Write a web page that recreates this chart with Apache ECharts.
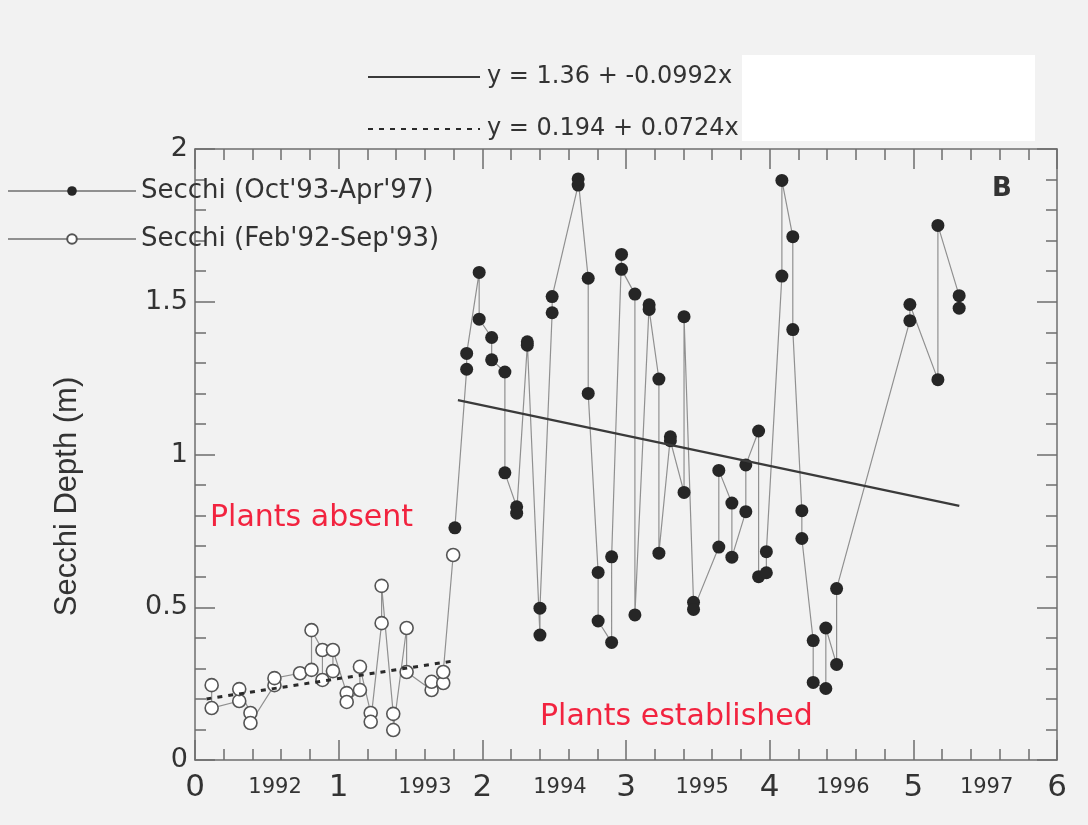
<!DOCTYPE html>
<html>
<head>
<meta charset="utf-8">
<script src="https://cdn.jsdelivr.net/npm/echarts@6/dist/echarts.min.js"></script>
<style>html,body{margin:0;padding:0;background:#f2f2f2;}#c{width:1088px;height:825px;}</style>
</head>
<body>
<div id="c"></div>
<script>
// ---- data ----
const xTickLabels = ['0','1','2','3','4','5','6'];
const yearPositions = [0.557, 1.60, 2.54, 3.53, 4.51, 5.51];
const yearLabels = ['1992','1993','1994','1995','1996','1997'];

const openX = [0.116,0.116,0.308,0.308,0.386,0.386,0.553,0.553,0.731,0.811,0.811,0.887,0.887,0.960,0.960,1.056,1.056,1.148,1.148,1.223,1.223,1.299,1.299,1.380,1.380,1.473,1.473,1.647,1.647,1.728,1.728,1.797];
const openY = [0.245,0.170,0.193,0.232,0.154,0.121,0.245,0.268,0.284,0.295,0.425,0.360,0.262,0.291,0.360,0.219,0.190,0.229,0.305,0.154,0.125,0.448,0.570,0.151,0.098,0.432,0.288,0.229,0.256,0.252,0.288,0.671];

const filledX = [1.809,1.891,1.891,1.978,1.978,2.065,2.065,2.157,2.157,2.239,2.239,2.313,2.313,2.401,2.401,2.486,2.486,2.667,2.667,2.737,2.737,2.806,2.806,2.900,2.900,2.969,2.969,3.062,3.062,3.161,3.161,3.229,3.229,3.309,3.309,3.404,3.404,3.470,3.470,3.646,3.646,3.737,3.737,3.834,3.834,3.923,3.923,3.977,3.977,4.085,4.085,4.161,4.161,4.224,4.224,4.303,4.303,4.391,4.391,4.466,4.466,4.976,4.976,5.171,5.171,5.319,5.319];
const filledY = [0.760,1.279,1.331,1.596,1.443,1.383,1.310,1.270,0.940,0.829,0.808,1.358,1.369,0.409,0.497,1.464,1.517,1.882,1.902,1.577,1.200,0.614,0.455,0.385,0.665,1.655,1.606,1.525,0.475,1.490,1.475,1.247,0.677,1.058,1.045,0.876,1.451,0.516,0.493,0.697,0.948,0.841,0.664,0.813,0.966,1.077,0.600,0.613,0.682,1.584,1.897,1.713,1.409,0.816,0.725,0.391,0.254,0.234,0.432,0.313,0.561,1.438,1.491,1.245,1.750,1.520,1.479];

// regression line end points
const fitLateX = [1.83, 5.32];
const fitLateY = [1.178, 0.832];
const fitEarlyX = [0.08, 1.81];
const fitEarlyY = [0.200, 0.325];

const nameLate = "Secchi (Oct'93-Apr'97)";
const nameEarly = "Secchi (Feb'92-Sep'93)";
const nameFitLate = "y = 1.36 + -0.0992x";
const nameFitEarly = "y = 0.194 + 0.0724x";

const zip = (a, b) => a.map((v, i) => [v, b[i]]);

const TXT = '#333';
const AX = '#6e6e6e';
const SANS = '"DejaVu Sans", sans-serif';

const chart = echarts.init(document.getElementById('c'), null, {renderer: 'canvas'});

const baseX = {
  type: 'value', min: 0, max: 6, interval: 1,
  splitLine: {show: false}
};
const baseY = {
  type: 'value', min: 0, max: 2, interval: 0.5,
  splitLine: {show: false}
};
const tickIn = {inside: true, length: 20, lineStyle: {color: AX, width: 1.5}};
const minorIn = {show: true, splitNumber: 5, length: 11, lineStyle: {color: AX, width: 1.5}};

chart.setOption({
  backgroundColor: '#f2f2f2',
  animation: false,
  grid: {left: 195, right: 31, top: 149, bottom: 65, containLabel: false},
  legend: [
    {
      data: [nameFitLate, nameFitEarly],
      orient: 'vertical', left: 362, top: 57,
      itemWidth: 112, itemHeight: 12, itemGap: 22,
      itemStyle: {opacity: 0},
      textStyle: {color: TXT, fontSize: 24, fontFamily: SANS, lineHeight: 30, padding: [0,0,0,2]},
      selectedMode: false
    },
    {
      data: [nameLate, nameEarly],
      orient: 'vertical', left: 2, top: 171,
      itemWidth: 128, itemHeight: 12, itemGap: 18,
      textStyle: {color: TXT, fontSize: 26, fontFamily: SANS, lineHeight: 30},
      selectedMode: false
    }
  ],
  xAxis: [
    Object.assign({}, baseX, {
      position: 'bottom',
      axisLine: {onZero: false, lineStyle: {color: AX, width: 1.5}},
      axisTick: tickIn,
      minorTick: minorIn,
      axisLabel: {color: TXT, fontSize: 31, fontFamily: SANS, margin: 12,
        formatter: v => xTickLabels[Math.round(v)]}
    }),
    Object.assign({}, baseX, {
      position: 'bottom',
      axisLine: {show: false, onZero: false}, axisTick: {show: false},
      axisLabel: {show: true, customValues: yearPositions, color: TXT, fontSize: 21, fontFamily: SANS, margin: 17,
        formatter: v => {
          let best = 0;
          yearPositions.forEach((p, i) => { if (Math.abs(p - v) < Math.abs(yearPositions[best] - v)) best = i; });
          return yearLabels[best];
        }}
    }),
    Object.assign({}, baseX, {
      position: 'top',
      axisLine: {onZero: false, lineStyle: {color: AX, width: 1.5}},
      axisTick: tickIn,
      minorTick: minorIn,
      axisLabel: {show: false}
    })
  ],
  yAxis: [
    Object.assign({}, baseY, {
      position: 'left',
      name: 'Secchi Depth (m)', nameLocation: 'middle', nameGap: 112,
      nameTextStyle: {color: TXT, fontSize: 31, fontFamily: '"Liberation Sans", Arial, sans-serif', padding: [0, 84, 0, 0]},
      axisLine: {onZero: false, lineStyle: {color: AX, width: 1.5}},
      axisTick: {show: false},
      minorTick: {show: false},
      axisLabel: {color: TXT, fontSize: 27, fontFamily: SANS, margin: 7}
    }),
    Object.assign({}, baseY, {
      position: 'right',
      axisLine: {onZero: false, lineStyle: {color: AX, width: 1.5}},
      axisTick: tickIn,
      minorTick: minorIn,
      axisLabel: {show: false}
    }),
    Object.assign({}, baseY, {
      position: 'left',
      axisLine: {show: false, onZero: false},
      axisTick: tickIn,
      minorTick: minorIn,
      axisLabel: {show: false}
    })
  ],
  series: [
    {
      name: nameEarly, type: 'line', xAxisIndex: 0, yAxisIndex: 0,
      data: zip(openX, openY),
      symbol: 'circle', symbolSize: 13, showSymbol: true,
      lineStyle: {color: '#909090', width: 1.2},
      itemStyle: {color: '#ffffff', borderColor: '#555', borderWidth: 1.6},
      z: 3
    },
    {
      name: nameLate, type: 'line', xAxisIndex: 0, yAxisIndex: 0,
      data: zip(filledX, filledY),
      symbol: 'circle', symbolSize: 13, showSymbol: true,
      lineStyle: {color: '#909090', width: 1.2},
      itemStyle: {color: '#262626', borderColor: '#262626', borderWidth: 0},
      z: 3
    },
    {
      name: nameFitLate, type: 'line', xAxisIndex: 0, yAxisIndex: 0,
      data: zip(fitLateX, fitLateY),
      symbol: 'none', showSymbol: false,
      lineStyle: {color: '#3a3a3a', width: 2.2},
      itemStyle: {color: '#3a3a3a'},
      z: 4
    },
    {
      name: nameFitEarly, type: 'line', xAxisIndex: 0, yAxisIndex: 0,
      data: zip(fitEarlyX, fitEarlyY),
      symbol: 'none', showSymbol: false,
      lineStyle: {color: '#2a2a2a', width: 3, type: [5, 6]},
      itemStyle: {color: '#2a2a2a'},
      z: 4
    }
  ],
  graphic: [
    {type: 'rect', left: 742, top: 55, shape: {width: 293, height: 86}, style: {fill: '#ffffff'}, z: 10},
    {type: 'text', left: 992, top: 176, style: {text: 'B', fontSize: 26, fontWeight: 'bold', fontFamily: SANS, fill: '#333'}, z: 10},
    {type: 'text', left: 210, top: 503, style: {text: 'Plants absent', fontSize: 30, fontFamily: SANS, fill: '#f2233f'}, z: 10},
    {type: 'text', left: 540, top: 702, style: {text: 'Plants established', fontSize: 30, fontFamily: SANS, fill: '#f2233f'}, z: 10}
  ]
});
</script>
</body>
</html>
